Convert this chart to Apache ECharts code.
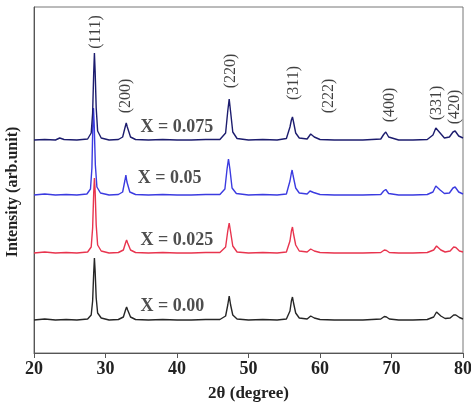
<!DOCTYPE html>
<html>
<head>
<meta charset="utf-8">
<script src="https://cdn.jsdelivr.net/npm/echarts@6/dist/echarts.min.js"></script>
<style>html,body{margin:0;padding:0;background:#fff;}#c{width:471px;height:402px;}</style>
</head>
<body>
<div id="c"></div>
<script>
// 2θ (degree), intensity (arb. units, stacked offsets)
var xTicks = [20, 30, 40, 50, 60, 70, 80];

var sample000 = [[20,33],[21.5,34],[23,33],[24.5,33.5],[26,33],[27.5,34],[28.0,38],[28.2,52],[28.35,80],[28.45,95],[28.55,82],[28.7,55],[28.9,40],[29.4,35],[30.5,33],[31.8,33.5],[32.5,36],[32.8,43],[32.95,46],[33.1,43],[33.5,36],[34.2,33.5],[36,33],[38,33.5],[40,33],[42,33],[44,33.5],[46,33.5],[46.8,37],[47.1,48],[47.3,57],[47.5,48],[47.8,38],[48.4,34],[50,33],[52,33.5],[54,33],[55.3,34],[55.8,42],[56.0,52],[56.15,56],[56.3,50],[56.6,40],[57.1,35],[58.2,34],[58.7,37],[58.9,37.5],[59.2,35],[60,33.5],[62,33],[64,33],[66,33],[68.5,34],[69.0,36.5],[69.3,36],[69.7,34],[71,33],[73,33],[75,33.5],[75.9,36],[76.3,41],[76.5,41],[76.9,37],[77.5,34.5],[78.2,35],[78.7,38],[79.0,38],[79.5,35.5],[80,34]];

var sample025 = [[20,100],[21.5,101],[23,100],[24.5,100.5],[26,100],[27.5,101],[28.0,106],[28.2,125],[28.35,160],[28.45,175],[28.55,162],[28.7,128],[28.9,108],[29.4,102],[30.5,100],[31.8,100.5],[32.5,103],[32.8,110],[32.95,113],[33.1,110],[33.5,103],[34.2,100.5],[36,100],[38,100.5],[40,100],[42,100],[44,100.5],[46,100.5],[46.8,106],[47.1,122],[47.3,130],[47.5,121],[47.8,107],[48.4,101],[50,100],[52,100.5],[54,100],[55.3,101],[55.8,112],[56.0,122],[56.15,126],[56.3,119],[56.6,108],[57.1,102],[58.2,101],[58.7,104],[58.9,104],[59.2,102],[60,100.5],[62,100],[64,100],[66,100],[68.5,100.5],[69.0,103],[69.3,102.5],[69.7,100.5],[71,100],[73,100],[75,100.5],[75.9,103],[76.3,107],[76.5,106.5],[76.9,103],[77.5,101],[78.2,102],[78.7,106],[79.0,105.5],[79.5,102],[80,101]];

var sample050 = [[20,158],[21.5,159],[23,158],[24.5,158.5],[26,158],[27.4,159],[27.9,164],[28.1,185],[28.22,225],[28.32,245],[28.42,228],[28.58,188],[28.8,166],[29.3,160],[30.5,158],[31.8,158.5],[32.4,161],[32.7,172],[32.85,178],[33.0,171],[33.4,161],[34.2,158.5],[36,158],[38,158.5],[40,158],[42,158],[44,158.5],[46,158.5],[46.7,164],[47.0,184],[47.2,194],[47.4,184],[47.7,165],[48.3,159.5],[50,158],[52,158.5],[54,158],[55.3,159],[55.8,172],[56.0,180],[56.1,183],[56.25,177],[56.6,165],[57.1,160],[58.2,159],[58.6,162],[58.8,163],[59.1,160.5],[60,158.5],[62,158],[64,158],[66,158],[68.5,158.5],[68.9,162],[69.2,163.5],[69.6,159.5],[71,158],[73,158],[75,158.5],[75.8,161],[76.2,167],[76.4,168],[76.8,163],[77.4,159.5],[78.1,160],[78.6,165],[78.9,166],[79.4,161],[80,159]];

var sample075 = [[20,213],[21.5,213.5],[23,213],[23.6,215],[24.2,213.5],[26,213],[27.5,214],[28.0,220],[28.2,240],[28.35,280],[28.45,300],[28.55,282],[28.7,245],[28.9,222],[29.4,215],[30.5,213],[31.8,213.5],[32.4,216],[32.75,226],[32.9,230],[33.05,226],[33.5,216],[34.2,213.5],[36,213],[38,213.5],[40,213],[42,213],[44,213.5],[46,213.5],[46.8,220],[47.1,242],[47.3,254],[47.5,241],[47.8,221],[48.4,214.5],[50,213],[52,213.5],[54,213],[55.3,214.5],[55.8,226],[56.0,233],[56.15,236],[56.3,231],[56.6,220],[57.1,215],[58.2,214],[58.7,219],[58.9,220],[59.2,216],[60,213.5],[62,213],[64,213],[66,213],[68.5,214],[68.9,218.5],[69.2,221],[69.6,216],[71,213],[73,213],[75,213.5],[75.8,218],[76.2,225],[76.4,227],[76.8,220],[77.4,215],[78.1,216],[78.6,221],[78.9,222],[79.4,217],[80,215]];

var hklNames = ['(111)', '(200)', '(220)', '(311)', '(222)', '(400)', '(331)', '(420)'];
var hklX = [28.6, 32.9, 47.5, 56.3, 61.2, 69.8, 76.4, 78.9];
var hklY = [321, 257, 282, 270, 257, 248, 250, 246];

var sampleNames = ['X = 0.075', 'X = 0.05', 'X = 0.025', 'X = 0.00'];
var sampleLabelX = [34.9, 34.5, 34.9, 34.9];
var sampleLabelY = [226, 175, 113, 47];

var serif = '"Liberation Serif", "Times New Roman", serif';
var chart = echarts.init(document.getElementById('c'));

function lineSeries(data, color) {
  return { type: 'line', data: data, showSymbol: false, symbol: 'none', smooth: false,
           lineStyle: { color: color, width: 1.4 }, animation: false, z: 3 };
}

chart.setOption({
  animation: false,
  grid: { left: 34, right: 8, top: 7, bottom: 49, show: true, borderColor: '#777', borderWidth: 1,
          containLabel: false, outerBoundsMode: 'none' },
  xAxis: {
    type: 'value', min: 20, max: 80, interval: 10,
    name: '2θ (degree)', nameLocation: 'middle', nameGap: 32,
    nameTextStyle: { fontFamily: serif, fontSize: 17, fontWeight: 'bold', color: '#222' },
    axisLine: { show: true, lineStyle: { color: '#555', width: 1 } },
    axisTick: { show: true, inside: false, length: 5, lineStyle: { color: '#555' } },
    axisLabel: { fontFamily: serif, fontSize: 18, fontWeight: 'bold', color: '#222', margin: 7,
                 formatter: function (v) { return xTicks.indexOf(v) >= 0 ? String(v) : ''; } },
    splitLine: { show: false }
  },
  yAxis: {
    type: 'value', min: 0, max: 346,
    axisLine: { show: true, lineStyle: { color: '#555', width: 1 } },
    axisTick: { show: false }, axisLabel: { show: false }, splitLine: { show: false }
  },
  graphic: [{
    type: 'text', rotation: Math.PI / 2, x: 13, y: 192,
    style: { text: 'Intensity (arb.unit)', font: 'bold 16px ' + serif, fill: '#222', textAlign: 'center', textVerticalAlign: 'middle' }
  }],
  series: [
    lineSeries(sample000, '#262626'),
    lineSeries(sample025, '#e8344e'),
    lineSeries(sample050, '#3b3be0'),
    lineSeries(sample075, '#1c1c6e'),
    {
      type: 'scatter', symbolSize: 0, z: 5, silent: true,
      data: hklNames.map(function (n, i) { return { name: n, value: [hklX[i], hklY[i]] }; }),
      label: { show: true, position: 'inside', rotate: 90, formatter: '{b}',
               fontFamily: serif, fontSize: 16, color: '#111', align: 'center', verticalAlign: 'middle' }
    },
    {
      type: 'scatter', symbolSize: 0, z: 5, silent: true,
      data: sampleNames.map(function (n, i) { return { name: n, value: [sampleLabelX[i], sampleLabelY[i]] }; }),
      label: { show: true, position: 'right', distance: 0, formatter: '{b}',
               fontFamily: serif, fontSize: 18, fontWeight: 'bold', color: '#222' }
    }
  ]
});
</script>
</body>
</html>
